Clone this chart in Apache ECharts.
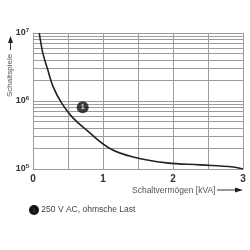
<!DOCTYPE html>
<html>
<head>
<meta charset="utf-8">
<script src="https://cdn.jsdelivr.net/npm/echarts@6/dist/echarts.min.js"></script>
<style>
  html, body { margin: 0; padding: 0; background: #fff; }
  #chart { width: 250px; height: 250px; }
</style>
</head>
<body>
<div id="chart"></div>
<script>
// Schaltvermögen [kVA] vs Schaltspiele (log)
const kva = [0.09, 0.14, 0.21, 0.29, 0.41, 0.56, 0.77, 1.1, 1.43, 1.91, 2.39, 2.86, 3.0]
const cycles = [1e7, 5.1e6, 2.9e6, 1.6e6, 9.3e5, 5.8e5, 3.7e5, 2.0e5, 1.5e5, 1.23e5, 1.15e5, 1.07e5, 1.0e5]
const minorLines = [2e5, 3e5, 4e5, 5e5, 6e5, 7e5, 8e5, 9e5, 2e6, 3e6, 4e6, 5e6, 6e6, 7e6, 8e6, 9e6]
const markerPoint = [0.71, 8.1e5]
const legendText = '250 V AC, ohmsche Last'

const chart = echarts.init(document.getElementById('chart'))
const gridColor = '#9c9c9c'

chart.setOption({
  animation: false,
  grid: { left: 33, right: 7, top: 33, bottom: 81 },
  xAxis: {
    type: 'value',
    min: 0,
    max: 3,
    interval: 0.5,
    axisLine: { show: true, lineStyle: { color: gridColor, width: 1 } },
    axisTick: { show: false },
    splitLine: { show: true, lineStyle: { color: gridColor, width: 1 } },
    axisLabel: {
      margin: 5,
      color: '#333',
      fontFamily: 'Liberation Sans',
      fontWeight: 'bold',
      fontSize: 10,
      formatter: v => (v % 1 === 0 ? String(v) : '')
    }
  },
  yAxis: {
    type: 'log',
    logBase: 10,
    min: 1e5,
    max: 1e7,
    axisLine: { show: true, lineStyle: { color: gridColor, width: 1 } },
    axisTick: { show: false },
    splitLine: { show: true, lineStyle: { color: gridColor, width: 1 } },
    axisLabel: {
      margin: 4,
      color: '#333',
      fontFamily: 'Liberation Sans',
      formatter: v => '{b|10}{s|' + Math.round(Math.log10(v)) + '}',
      rich: {
        b: { fontSize: 9, fontWeight: 'bold', color: '#333', fontFamily: 'Liberation Sans' },
        s: { fontSize: 6, fontWeight: 'bold', color: '#333', verticalAlign: 'top', padding: [0, 0, 5, 0], fontFamily: 'Liberation Sans' }
      }
    }
  },
  series: [
    {
      // minor log grid lines
      type: 'line',
      data: [],
      z: 1,
      markLine: {
        silent: true,
        symbol: 'none',
        label: { show: false },
        lineStyle: { color: gridColor, width: 1, type: 'solid' },
        data: minorLines.map(v => ({ yAxis: v }))
      }
    },
    {
      type: 'line',
      data: kva.map((x, i) => [x, cycles[i]]),
      smooth: 0.4,
      showSymbol: false,
      lineStyle: { color: '#222', width: 1.6 },
      z: 5
    },
    {
      type: 'scatter',
      data: [markerPoint],
      symbolSize: 12,
      itemStyle: { color: '#111' },
      label: {
        show: true,
        position: 'inside',
        formatter: '1',
        color: '#fff',
        fontSize: 7,
        fontWeight: 'bold'
      },
      z: 10
    }
  ],
  graphic: [
    // y axis title + arrow
    {
      type: 'text',
      x: 6,
      y: 97,
      rotation: Math.PI / 2,
      style: { text: 'Schaltspiele', fill: '#555', font: '8px Liberation Sans' }
    },
    { type: 'line', shape: { x1: 10.5, y1: 50, x2: 10.5, y2: 41 }, style: { stroke: '#333', lineWidth: 1 } },
    { type: 'polygon', shape: { points: [[10.5, 36], [8, 43], [13, 43]] }, style: { fill: '#222' } },
    // x axis title + arrow
    {
      type: 'text',
      x: 132,
      y: 186,
      style: { text: 'Schaltvermögen [kVA]', fill: '#555', font: '8.5px Liberation Sans' }
    },
    { type: 'line', shape: { x1: 217, y1: 190, x2: 236, y2: 190 }, style: { stroke: '#333', lineWidth: 1 } },
    { type: 'polygon', shape: { points: [[243, 190], [235, 187.5], [235, 192.5]] }, style: { fill: '#222' } },
    // legend
    {
      type: 'text',
      x: 29,
      y: 205,
      style: {
        text: '{c|1} ' + legendText,
        rich: {
          c: {
            backgroundColor: '#111',
            borderRadius: 5,
            width: 10,
            height: 10,
            align: 'center',
            color: '#fff',
            fontSize: 6,
            fontWeight: 'bold',
            fontFamily: 'Liberation Sans'
          }
        },
        fill: '#444',
        font: '8.5px Liberation Sans'
      }
    }
  ]
})
</script>
</body>
</html>
